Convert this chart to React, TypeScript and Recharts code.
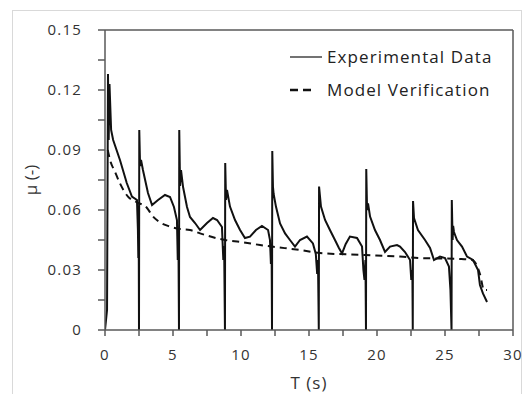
import { LineChart, Line, XAxis, YAxis, ReferenceLine, Legend } from 'recharts'

// experimental friction coefficient
const expTime = [
  0, 0.15, 0.22, 0.27, 0.33, 0.45, 0.6, 1.1, 1.6, 1.98, 2.35, 2.42, 2.45, 2.48, 2.5,
  2.52, 2.58, 2.65, 2.79, 3.16, 3.46, 3.9, 4.41, 4.78, 5.07, 5.29, 5.35, 5.4, 5.44,
  5.46, 5.52, 5.59, 5.74, 6.03, 6.25, 6.62, 6.99, 7.5, 7.94, 8.24, 8.6, 8.7, 8.76, 8.82,
  8.84, 8.9, 8.97, 9.19, 9.56, 9.93, 10.29, 10.66, 11.1, 11.54, 11.99, 12.13, 12.2, 12.25, 12.28,
  12.3, 12.35, 12.4, 12.57, 12.87, 13.24, 13.6, 13.97, 14.34, 14.85, 15.29, 15.5, 15.6, 15.66, 15.72,
  15.74, 15.88, 16.18, 16.54, 16.91, 17.2, 17.43, 17.7, 18.01, 18.53, 18.9, 19.0, 19.08, 19.15, 19.19,
  19.21, 19.27, 19.34, 19.49, 19.85, 20.22, 20.59, 20.96, 21.47, 21.69, 22.06, 22.43, 22.52, 22.6, 22.63,
  22.65, 22.72, 23.01, 23.53, 23.9, 24.19, 24.63, 25.0, 25.29, 25.4, 25.48,
  25.5, 25.56, 25.6, 25.66, 25.88, 26.25, 26.62, 27.06, 27.43, 27.57, 27.79, 28.09,
]
const expMu = [
  0, 0.01, 0.128, 0.095, 0.123, 0.1, 0.095, 0.085, 0.0735, 0.0667, 0.065, 0.05, 0.036, 0.045, 0,
  0.1, 0.082, 0.085, 0.08, 0.0685, 0.0625, 0.065, 0.0675, 0.0665, 0.0615, 0.055, 0.035, 0.045, 0,
  0.1, 0.072, 0.08, 0.0715, 0.0615, 0.0565, 0.0535, 0.05, 0.0535, 0.056, 0.055, 0.0515, 0.035, 0.042, 0,
  0.0835, 0.065, 0.07, 0.0617, 0.055, 0.05, 0.046, 0.0467, 0.05, 0.052, 0.05, 0.045, 0.033, 0.04, 0,
  0.0895, 0.0717, 0.068, 0.0617, 0.0533, 0.0483, 0.045, 0.0417, 0.045, 0.0467, 0.0433, 0.038, 0.028, 0.035, 0,
  0.0717, 0.0617, 0.055, 0.05, 0.045, 0.041, 0.0383, 0.043, 0.0467, 0.046, 0.0417, 0.03, 0.025, 0.035, 0,
  0.0805, 0.06, 0.0633, 0.0567, 0.05, 0.045, 0.039, 0.0417, 0.0425, 0.0417, 0.039, 0.035, 0.025, 0.03, 0,
  0.0645, 0.056, 0.05, 0.045, 0.041, 0.035, 0.0367, 0.036, 0.0317, 0.02, 0,
  0.065, 0.045, 0.052, 0.049, 0.045, 0.0417, 0.0367, 0.035, 0.03, 0.0225, 0.0183, 0.014,
]

// model verification curve
const modelTime = [
  0.2, 0.37, 0.74, 1.1, 1.69, 2.3, 3.09, 3.5, 3.9, 4.78, 5.51, 6.25, 6.99, 8.82, 10.0,
  11.4, 12.28, 14.34, 15.81, 19.19, 21.69, 23.16, 26.1, 26.99, 27.57, 27.87, 28.09,
]
const modelMu = [
  0.09, 0.085, 0.079, 0.0733, 0.0667, 0.064, 0.061, 0.057, 0.0545, 0.0517, 0.0505, 0.05, 0.0483, 0.045, 0.044,
  0.0425, 0.0417, 0.04, 0.0385, 0.0375, 0.0367, 0.036, 0.0355, 0.035, 0.028, 0.02, 0.02,
]

const xTicks = [0, 2.5, 5, 7.5, 10, 12.5, 15, 17.5, 20, 22.5, 25, 27.5, 30]
const yTicks = [0, 0.015, 0.03, 0.045, 0.06, 0.075, 0.09, 0.105, 0.12, 0.135, 0.15]
const seriesNames = ['Experimental Data', 'Model Verification']

const expData = expTime.map((t, i) => ({ t, mu: expMu[i] }))
const modelData = modelTime.map((t, i) => ({ t, mu: modelMu[i] }))

const FONT = '"Open Sans", sans-serif'
const AXIS = '#595959'
const TEXT = '#333'

const tickStyle = { fontSize: 15, fill: TEXT, fontFamily: FONT, letterSpacing: 1.2 }

function LegendBox() {
  return (
    <div style={{ fontFamily: FONT, fontSize: 17, color: '#222', letterSpacing: 1.1, lineHeight: 1 }}>
      {seriesNames.map((name, idx) => (
        <div key={name} style={{ display: 'flex', alignItems: 'center', height: 33 }}>
          <svg width={37} height={10} style={{ display: 'block' }}>
            {idx === 0 ? (
              <line x1={0} y1={5} x2={32} y2={5} stroke="#444" strokeWidth={1.5} />
            ) : (
              <line x1={0} y1={5} x2={21} y2={5} stroke="#111" strokeWidth={2.5} strokeDasharray="8 5" />
            )}
          </svg>
          <span>{name}</span>
        </div>
      ))}
    </div>
  )
}

export default function App() {
  return (
    <div style={{ position: 'relative', width: 522, height: 394, background: '#fff', overflow: 'hidden' }}>
      <style>{'body{margin:0}'}</style>
      <div
        style={{
          position: 'absolute',
          left: 12,
          top: 10,
          width: 508,
          height: 420,
          border: '1.5px solid #d9d9d9',
        }}
      />
      <div style={{ position: 'absolute', left: 0, top: 0 }}>
        <LineChart width={522} height={394} margin={{ top: 30, right: 9, bottom: 4, left: 0 }}>
          <XAxis
            dataKey="t"
            type="number"
            domain={[0, 30]}
            ticks={xTicks}
            interval={0}
            allowDataOverflow
            height={60}
            stroke={AXIS}
            strokeWidth={1.5}
            tickSize={6}
            tickMargin={13}
            tick={tickStyle}
            tickFormatter={(v: number) => (v % 5 === 0 ? String(v) : '')}
            label={{ value: 'T (s)', position: 'insideBottom', offset: 1, fontSize: 17, fill: TEXT, fontFamily: FONT, letterSpacing: 1 }}
          />
          <YAxis
            dataKey="mu"
            type="number"
            domain={[0, 0.15]}
            ticks={yTicks}
            interval={0}
            allowDataOverflow
            width={105}
            stroke={AXIS}
            strokeWidth={1.5}
            tickSize={7}
            tickMargin={16}
            tick={tickStyle}
            tickFormatter={(v: number, i: number) => (i % 2 === 0 ? (v === 0 ? '0' : v.toFixed(2)) : '')}
            label={(props: any) => {
              const vb = props.viewBox || { x: 0, y: 30, width: 105, height: 300 }
              const cx = vb.x + 30
              const cy = vb.y + vb.height / 2
              return (
                <text
                  x={cx}
                  y={cy}
                  transform={`rotate(-90 ${cx} ${cy})`}
                  textAnchor="middle"
                  dominantBaseline="central"
                  fontSize={17}
                  fill={TEXT}
                  fontFamily={FONT}
                >
                  μ (-)
                </text>
              )
            }}
          />
          <ReferenceLine y={0.15} stroke={AXIS} strokeWidth={1.5} />
          <ReferenceLine x={30} stroke={AXIS} strokeWidth={1.5} />
          <Legend
            layout="horizontal"
            verticalAlign="middle"
            align="center"
            content={() => <LegendBox />}
            wrapperStyle={{ position: 'absolute', top: 40, left: 290, width: 228, height: 66 }}
          />
          <Line
            data={expData}
            dataKey="mu"
            name={seriesNames[0]}
            type="linear"
            stroke="#111"
            strokeWidth={2}
            dot={false}
            activeDot={false}
            isAnimationActive={false}
          />
          <Line
            data={modelData}
            dataKey="mu"
            name={seriesNames[1]}
            type="monotone"
            stroke="#111"
            strokeWidth={2}
            strokeDasharray="7 5"
            dot={false}
            activeDot={false}
            isAnimationActive={false}
          />
        </LineChart>
      </div>
    </div>
  )
}
